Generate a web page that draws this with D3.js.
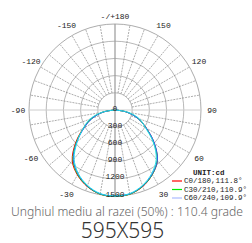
<!DOCTYPE html>
<html>
<head>
<meta charset="utf-8">
<script src="https://cdn.jsdelivr.net/npm/d3@7"></script>
<style>
  body { margin: 0; background: #fff; }
  svg { display: block; }
  .mono { font-family: "Liberation Mono", "DejaVu Sans Mono", monospace; }
</style>
</head>
<body>
<svg id="chart" width="252" height="243"></svg>
<script>
// angles from nadir, negative = left side
var angles = [-90,-80,-70,-60,-50,-40,-30,-20,-10,0,10,20,30,40,50,60,70,80,90];
var c0   = [10,220,440,640,900,1160,1310,1420,1490,1510,1490,1420,1300,1150,890,630,430,210,10];
var c30  = [10,215,430,630,880,1140,1300,1415,1490,1505,1490,1415,1300,1145,885,625,425,205,10];
var c60  = [10,205,420,620,870,1130,1290,1410,1485,1500,1485,1410,1295,1150,895,630,420,200,10];
var c90  = [10,235,465,640,860,1110,1280,1400,1480,1500,1480,1400,1280,1120,870,610,455,235,10];
var ringTicks = [0,300,600,900,1200,1500];
var angleTicks = [-150,-120,-90,-60,-30,30,60,90,120,150];
var legendNames = ["C0/180,111.8°","C30/210,110.9°","C60/240,109.9°"];
var beamText = "Unghiul mediu al razei (50%) : 110.4 grade";
var sizeText = "595X595";

var svg = d3.select("#chart"),
	cx = 115, cy = 110, R = 86;

var r = d3.scaleLinear().domain([0,1500]).range([0,R]);
var rad = function(a){ return a * Math.PI / 180; };
// x,y for an angle from nadir
function px(a, v){ return cx + v * Math.sin(rad(a)); }
function py(a, v){ return cy + v * Math.cos(rad(a)); }

var g = svg.append("g");

// rings
g.selectAll(".ring")
	.data(ringTicks.slice(1))
	.enter().append("circle")
	.attr("cx", cx).attr("cy", cy)
	.attr("r", function(d){ return r(d); })
	.attr("fill", "none")
	.attr("stroke", function(d){ return d == 1500 ? "#888" : "#999"; })
	.attr("stroke-width", 0.7);

// spokes every 10 deg
g.selectAll(".spoke")
	.data(d3.range(-170, 190, 10).filter(function(d){ return d % 90 != 0; }))
	.enter().append("line")
	.attr("x1", function(d){ return px(d, r(300)); })
	.attr("y1", function(d){ return py(d, r(300)); })
	.attr("x2", function(d){ return px(d, R); })
	.attr("y2", function(d){ return py(d, R); })
	.attr("stroke", "#777")
	.attr("stroke-width", 0.6)
	.attr("stroke-dasharray", "2,1");

// axes
g.append("line")
	.attr("x1", cx - R).attr("x2", cx + R).attr("y1", cy).attr("y2", cy)
	.attr("stroke", "#ccc").attr("stroke-width", 1);
g.append("line")
	.attr("x1", cx).attr("x2", cx).attr("y1", cy - R).attr("y2", cy + R)
	.attr("stroke", "#999").attr("stroke-width", 1.2);

// curves
var series = [
	{v: c0, color: "#ff0000"},
	{v: c30, color: "#00ee00"},
	{v: c60, color: "#3355ff"},
	{v: c90, color: "#22e0e8"}
];
var line = d3.line()
	.x(function(d){ return px(d[0], r(d[1])); })
	.y(function(d){ return py(d[0], r(d[1])); })
	.curve(d3.curveCatmullRom);

g.selectAll(".curve")
	.data(series)
	.enter().append("path")
	.attr("d", function(s){ return line(angles.map(function(a, i){ return [a, s.v[i]]; })); })
	.attr("fill", "none")
	.attr("stroke", function(s){ return s.color; })
	.attr("stroke-width", 1);

// ring labels
g.selectAll(".rlab")
	.data(ringTicks)
	.enter().append("text")
	.attr("class", "mono")
	.attr("x", cx)
	.attr("y", function(d){ return cy + r(d) - 2; })
	.attr("text-anchor", "middle")
	.attr("dominant-baseline", "central")
	.attr("font-size", 8)
	.attr("fill", "#222")
	.text(function(d){ return d; });

// angle labels
g.selectAll(".alab")
	.data(angleTicks)
	.enter().append("text")
	.attr("class", "mono")
	.attr("x", function(d){ return px(d, 97); })
	.attr("y", function(d){ return py(d, 97); })
	.attr("text-anchor", "middle")
	.attr("dominant-baseline", "central")
	.attr("font-size", 8)
	.attr("fill", "#222")
	.text(function(d){ return d; });
g.append("text")
	.attr("class", "mono")
	.attr("x", cx).attr("y", cy - 94)
	.attr("text-anchor", "middle")
	.attr("dominant-baseline", "central")
	.attr("font-size", 8)
	.attr("fill", "#222")
	.text("-/+180");

// legend
var lg = svg.append("g").attr("transform", "translate(172,173)");
lg.append("text")
	.attr("class", "mono")
	.attr("x", 21).attr("y", 0)
	.attr("dominant-baseline", "central")
	.attr("font-size", 7.5)
	.attr("font-weight", "bold")
	.attr("fill", "#222")
	.text("UNIT:cd");
var legendColors = ["#ff0000", "#00ee00", "#aabbff"];
legendNames.forEach(function(n, i){
	var y = 8 + i * 8.5;
	lg.append("line")
		.attr("x1", 0).attr("x2", 10).attr("y1", y).attr("y2", y)
		.attr("stroke", legendColors[i]).attr("stroke-width", 1.2);
	lg.append("text")
		.attr("class", "mono")
		.attr("x", 12).attr("y", y)
		.attr("dominant-baseline", "central")
		.attr("font-size", 7.5)
		.attr("fill", "#222")
		.text(n);
});

// captions
svg.append("text")
	.attr("x", 127).attr("y", 216)
	.attr("text-anchor", "middle")
	.attr("font-family", "'Noto Sans', sans-serif")
	.attr("font-weight", 300)
	.attr("font-size", 13)
	.attr("textLength", 232)
	.attr("lengthAdjust", "spacingAndGlyphs")
	.attr("fill", "#666")
	.text(beamText);
svg.append("text")
	.attr("x", 122.5).attr("y", 238)
	.attr("text-anchor", "middle")
	.attr("font-family", "'Noto Sans', sans-serif")
	.attr("font-weight", 300)
	.attr("font-size", 21)
	.attr("fill", "#333")
	.text(sizeText);
</script>
</body>
</html>
